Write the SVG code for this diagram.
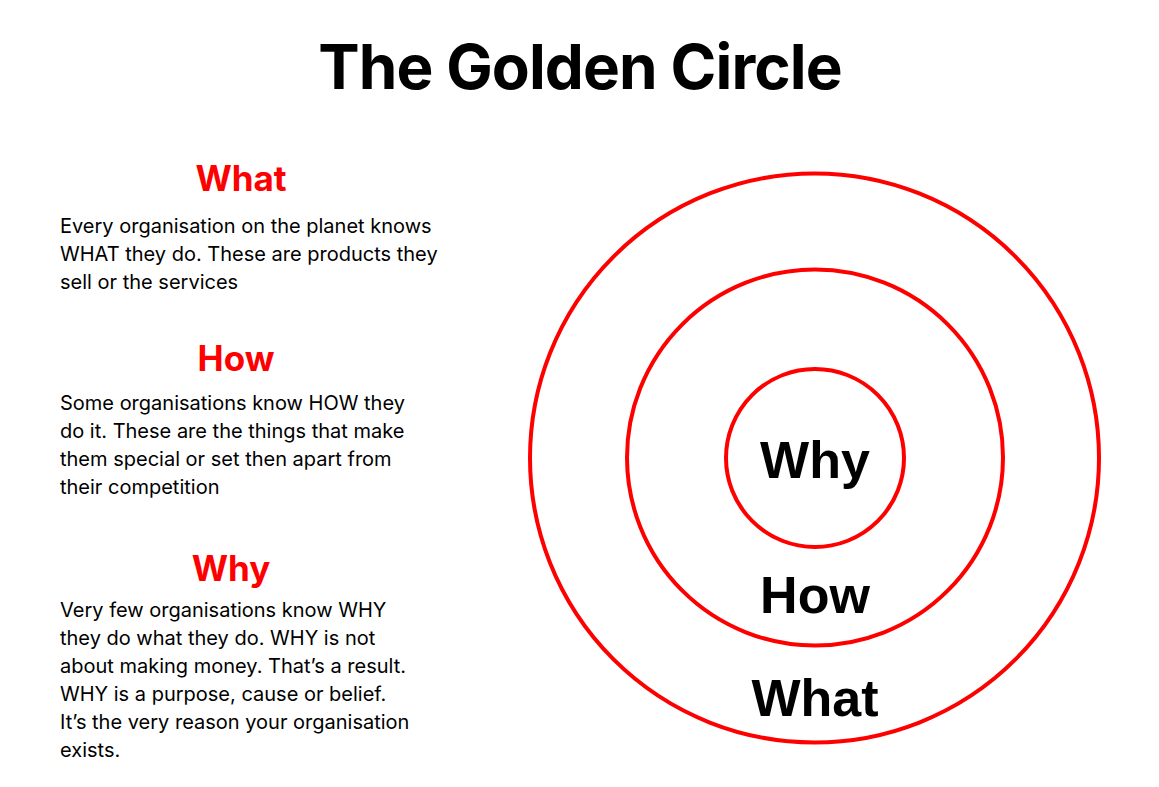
<svg xmlns="http://www.w3.org/2000/svg" width="1159" height="787" viewBox="0 0 1159 787">
<style>
.title{font-family:Inter,"Liberation Sans",sans-serif;font-weight:700;font-size:62px;letter-spacing:-0.9px;fill:#000}
.head{font-family:Inter,"Liberation Sans",sans-serif;font-weight:700;font-size:35px;fill:#FF0000}
.body{font-family:Inter,"Liberation Sans",sans-serif;font-weight:400;font-size:20px;fill:#000}
.ring{fill:none;stroke:#FF0000;stroke-width:4}
.lbl{font-family:"Liberation Sans",Arial,sans-serif;font-weight:700;font-size:52px;fill:#000}
</style>
<rect width="1159" height="787" fill="#fff"/>
<g id="title"><text class="title" x="580" y="89" text-anchor="middle">The Golden Circle</text></g>
<g id="what-desc">
<text class="head" x="241" y="191" text-anchor="middle">What</text>
<text class="body" x="60" y="233">Every organisation on the planet knows</text>
<text class="body" x="60" y="261">WHAT they do. These are products they</text>
<text class="body" x="60" y="289">sell or the services</text>
</g>
<g id="how-desc">
<text class="head" x="236" y="371" text-anchor="middle">How</text>
<text class="body" x="60" y="410">Some organisations know HOW they</text>
<text class="body" x="60" y="438">do it. These are the things that make</text>
<text class="body" x="60" y="466">them special or set then apart from</text>
<text class="body" x="60" y="494">their competition</text>
</g>
<g id="why-desc">
<text class="head" x="231" y="581" text-anchor="middle">Why</text>
<text class="body" x="60" y="617">Very few organisations know WHY</text>
<text class="body" x="60" y="645">they do what they do. WHY is not</text>
<text class="body" x="60" y="673">about making money. That’s a result.</text>
<text class="body" x="60" y="701">WHY is a purpose, cause or belief.</text>
<text class="body" x="60" y="729">It’s the very reason your organisation</text>
<text class="body" x="60" y="757">exists.</text>
</g>
<g id="ring-what"><circle class="ring" cx="814.5" cy="458" r="284.5"/><text class="lbl" x="815" y="716" text-anchor="middle">What</text></g>
<g id="ring-how"><circle class="ring" cx="815" cy="457.5" r="188"/><text class="lbl" x="815" y="613" text-anchor="middle">How</text></g>
<g id="ring-why"><circle class="ring" cx="815" cy="458" r="89"/><text class="lbl" x="815" y="478" text-anchor="middle">Why</text></g>
<g id="connectors"/>
</svg>
